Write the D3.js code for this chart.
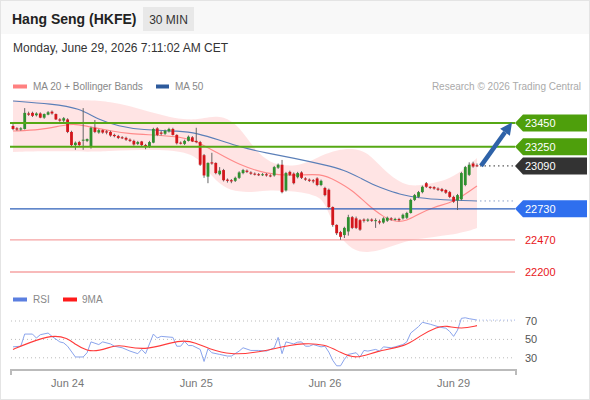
<!DOCTYPE html>
<html><head><meta charset="utf-8">
<script src="https://cdn.jsdelivr.net/npm/d3@7"></script>
<style>body{margin:0;background:#fff;} svg{display:block;font-family:"Liberation Sans",Arial,Helvetica,sans-serif;}</style>
</head><body><svg id="c" width="590" height="400"></svg>
<script>
// ---- data ----
const opens = [23425,23405,23395,23400,23530,23535,23515,23530,23495,23520,23545,23525,23480,23470,23480,23375,23265,23290,23305,23300,
23250,23410,23370,23390,23380,23375,23350,23340,23330,23325,23310,23300,23275,23295,23265,23250,23285,23405,23370,23360,
23380,23400,23350,23285,23275,23300,23330,23300,23290,23180,23000,23120,23115,23020,23055,22975,22970,22965,22990,23030,
23050,23035,23025,23020,23015,23020,23010,23010,23075,23100,22885,23040,23025,22995,23035,22985,22975,22970,22985,22930,
22905,22890,22745,22595,22535,22510,22540,22660,22650,22635,22640,22630,22640,22635,22625,22615,22630,22650,22640,22645,
22650,22655,22695,22805,22830,22870,22945,22915,22912,22900,22895,22888,22870,22830,22800,22810,22930,23015,23110,23095];
const highs = [23440,23415,23415,23575,23545,23545,23540,23540,23530,23550,23555,23530,23490,23500,23490,23385,23295,23300,23575,23320,
23420,23475,23400,23395,23390,23385,23360,23350,23340,23335,23320,23310,23300,23300,23275,23300,23410,23415,23385,23395,
23410,23410,23355,23295,23310,23345,23340,23410,23300,23190,23120,23200,23120,23080,23065,22985,22980,23000,23045,23065,
23060,23045,23035,23030,23030,23030,23020,23090,23110,23140,23040,23050,23035,23040,23045,22995,22985,22980,22995,22975,
22915,22900,22750,22600,22545,22580,22680,22670,22665,22645,22650,22650,22650,22650,22640,22660,22665,22660,22655,22655,
22690,22705,22815,22855,22880,22925,22955,22920,22920,22910,22905,22895,22880,22840,22855,23040,23090,23120,23125,23110];
const lows = [23390,23385,23385,23395,23510,23500,23505,23490,23485,23515,23520,23475,23460,23455,23365,23250,23225,23250,23225,23290,
23235,23365,23360,23360,23355,23335,23330,23315,23315,23300,23290,23260,23265,23250,23230,23240,23280,23340,23345,23350,
23370,23345,23270,23270,23265,23295,23290,23280,23090,22990,22945,23100,23020,23010,22960,22950,22945,22955,22980,23020,
23030,23015,23010,23005,23005,23000,22995,23000,23065,22860,22875,23005,22935,22985,22980,22965,22955,22945,22920,22920,
22835,22735,22580,22510,22470,22485,22505,22560,22560,22545,22615,22620,22620,22570,22600,22605,22620,22630,22630,22625,
22640,22645,22690,22795,22820,22860,22905,22895,22890,22880,22870,22855,22820,22780,22720,22800,22920,23005,23075,23080];
const closes = [23400,23395,23405,23535,23520,23510,23530,23495,23525,23540,23530,23480,23470,23490,23375,23265,23285,23265,23310,23315,
23410,23375,23390,23370,23370,23345,23340,23325,23325,23310,23300,23270,23290,23265,23255,23290,23400,23350,23360,23385,
23400,23350,23280,23280,23300,23335,23295,23290,23100,23010,23115,23110,23030,23050,22970,22965,22960,22990,23035,23055,
23040,23025,23020,23015,23020,23010,23005,23080,23100,22870,23030,23015,22945,23030,22990,22975,22965,22960,22930,22965,
22845,22745,22595,22525,22495,22570,22660,22570,22570,22555,22630,22640,22630,22635,22615,22650,22655,22640,22645,22635,
22680,22695,22805,22845,22870,22915,22915,22905,22900,22890,22880,22865,22830,22790,22845,23030,23080,23100,23085,23090];

// indicators: [candle index, value]
const ma20 = [[0,23383],[7,23391],[13,23433],[16,23442],[20,23416],[25,23383],[30,23358],[37,23349],[43,23333],[47,23299],
[52,23207],[58,23098],[65,23022],[72,23005],[79,23030],[83,22963],[87,22888],[91,22762],[95,22661],[98,22619],[101,22628],
[104,22687],[108,22745],[112,22779],[115,22829],[119,22922]];
const ma50 = [[0,23635],[10,23610],[17,23576],[22,23475],[27,23425],[33,23391],[43,23383],[47,23366],[53,23307],[58,23249],
[65,23198],[72,23156],[80,23098],[85,23056],[89,22990],[93,22922],[96,22888],[100,22846],[104,22821],[110,22804],[119,22796]];
const bbIdx   = [0,10,20,25,30,35,40,45,48,50,54,58,62,66,70,74,78,80,83,87,91,95,100,104,108,112,116,119];
const bbUpper = [23643,23643,23643,23626,23593,23542,23500,23475,23484,23500,23509,23425,23223,23114,23089,23098,23156,23190,23223,23240,23207,23056,22930,22922,22947,22980,23073,23156];
const bbLower = [23207,23215,23207,23215,23223,23223,23223,23198,23140,23039,22905,22871,22871,22888,22880,22871,22838,22787,22520,22380,22360,22390,22450,22480,22494,22510,22536,22569];

const rsi = [[0,41.9],[2,42.6],[3,55.8],[5,55.8],[6,51.5],[7,55.1],[9,56.9],[10,53.3],[12,47.3],[13,46.2],[14,42.6],[16,30.9],[18,30.9],
[19,35.5],[20,47.3],[22,44.4],[23,47.3],[25,45.1],[26,42.6],[28,40.9],[30,37.3],[32,34.5],[33,39.1],[34,34.5],[36,55.8],[37,51.5],
[38,53.3],[41,52.2],[42,42.6],[43,42.6],[44,47.9],[45,43.3],[46,43.3],[48,39.1],[49,26.0],[50,39.8],[51,35.5],[53,33.7],[55,31.9],
[56,31.9],[58,37.3],[59,40.9],[61,38.0],[63,38.0],[65,37.3],[67,40.9],[68,52.2],[69,34.5],[70,47.3],[72,45.1],[73,47.0],[74,47.3],
[75,42.6],[76,42.6],[77,44.4],[79,41.9],[80,42.6],[81,36.2],[82,27.3],[83,21.3],[84,21.3],[85,28.4],[86,33.7],[88,35.5],[89,30.9],
[90,38.0],[91,37.3],[93,39.1],[94,37.3],[95,41.9],[97,40.9],[98,41.9],[100,44.4],[101,47.3],[102,56.9],[104,63.9],[105,68.6],
[107,66.5],[109,63.9],[110,62.9],[111,62.2],[112,58.6],[113,53.3],[114,60.0],[115,72.9],[116,73.5],[117,72.5],[118,71.8],[119,71.0]];
const rsiMa = [[0,39.1],[4,46.2],[10,55.1],[14,51.5],[16,44.4],[19,37.3],[22,37.3],[26,43.3],[28,43.7],[34,37.3],[43,50.5],[47,46.2],
[50,40.1],[56,33.0],[62,35.5],[68,40.9],[71,43.3],[74,45.6],[80,45.1],[84,35.5],[88,28.4],[93,37.3],[101,42.6],[104,53.3],[109,63.9],
[111,65.0],[115,61.1],[119,65.0]];

const resistances = [23450, 23250];
const lastPrice = 23090;
const pivotLevel = 22730;
const supports = [22470, 22200];
const rsiLevels = [70, 50, 30];
const dayIdx = [14, 47, 80, 113];
const dayLabels = ["Jun 24", "Jun 25", "Jun 26", "Jun 29"];

// ---- drawing ----
const svg = d3.select("#c");
const W = 590, H = 400;
const x = d3.scaleLinear().domain([0, closes.length - 1]).range([13, 477]);
const y = d3.scaleLinear().domain([22200, 23450]).range([272, 123]);
const yr = d3.scaleLinear().domain([30, 70]).range([357.8, 321]);
const L = 10, R = 515;

svg.append("rect").attr("x",0).attr("y",0).attr("width",W).attr("height",H).attr("fill","#fff");
svg.append("rect").attr("x",0).attr("y",0).attr("width",W).attr("height",34).attr("fill","#f8f8f8");
svg.append("rect").attr("x",0.5).attr("y",0.5).attr("width",W-1).attr("height",H-1).attr("fill","none").attr("stroke","#e4e4e4");

// header
svg.append("text").attr("x",12).attr("y",24).attr("font-size",14).attr("font-weight","bold").attr("fill","#222").text("Hang Seng (HKFE)");
svg.append("rect").attr("x",143).attr("y",7).attr("width",51).attr("height",24).attr("fill","#e8e8e8");
svg.append("text").attr("x",168.5).attr("y",23.5).attr("text-anchor","middle").attr("font-size",12).attr("fill","#333").text("30 MIN");
svg.append("text").attr("x",13).attr("y",52).attr("font-size",12).attr("fill","#333").text("Monday, June 29, 2026 7:11:02 AM CET");

// legend
svg.append("rect").attr("x",13).attr("y",84.5).attr("width",14).attr("height",4).attr("fill","#ff8080");
svg.append("text").attr("x",33).attr("y",90).attr("font-size",10).attr("fill","#888").text("MA 20 + Bollinger Bands");
svg.append("rect").attr("x",156).attr("y",84.5).attr("width",13).attr("height",4).attr("fill","#2d5a9c");
svg.append("text").attr("x",175).attr("y",90).attr("font-size",10).attr("fill","#888").text("MA 50");
svg.append("text").attr("x",581).attr("y",90).attr("text-anchor","end").attr("font-size",10).attr("fill","#aaa").text("Research \u00a9 2026 Trading Central");

// bollinger band
const bb = bbIdx.map((d,i)=>({i:d,u:bbUpper[i],l:bbLower[i]}));
svg.append("path").datum(bb)
  .attr("d", d3.area().x(d=>x(d.i)).y0(d=>y(d.l)).y1(d=>y(d.u)).curve(d3.curveBasis))
  .attr("fill","rgba(255,90,90,0.16)");

// MA lines
const line = d3.line().x(d=>x(d[0])).y(d=>y(d[1])).curve(d3.curveBasis);
svg.append("path").datum(ma20).attr("d",line).attr("fill","none").attr("stroke","#ff8a8a").attr("stroke-width",1.1);
svg.append("path").datum(ma50).attr("d",line).attr("fill","none").attr("stroke","#5b7fb8").attr("stroke-width",1.1);

// support lines
supports.forEach(v=>{
  svg.append("line").attr("x1",L).attr("x2",R).attr("y1",y(v)).attr("y2",y(v)).attr("stroke","#f6a3a3").attr("stroke-width",1.3);
  svg.append("text").attr("x",525).attr("y",y(v)+4).attr("font-size",11).attr("fill","#e8161b").text(v);
});
// pivot line
svg.append("line").attr("x1",L).attr("x2",R).attr("y1",y(pivotLevel)).attr("y2",y(pivotLevel)).attr("stroke","#2c5fb8").attr("stroke-width",1.3);

// candles
const n = closes.length;
const g = svg.append("g");
for (let i = 0; i < n; i++) {
  const up = closes[i] >= opens[i];
  const cx = x(i);
  g.append("line").attr("x1",cx).attr("x2",cx).attr("y1",y(highs[i])).attr("y2",y(lows[i])).attr("stroke","#666").attr("stroke-width",1);
  const top = y(Math.max(opens[i],closes[i])), bot = y(Math.min(opens[i],closes[i]));
  g.append("rect").attr("x",cx-1.4).attr("y",top).attr("width",2.8).attr("height",Math.max(1,bot-top))
    .attr("fill", up ? "#2f8f2f" : "#d2161c");
}

// resistance lines
resistances.forEach(v=>{
  svg.append("line").attr("x1",L).attr("x2",R).attr("y1",y(v)).attr("y2",y(v)).attr("stroke","#56a814").attr("stroke-width",2);
});

// dotted extensions
const lastX = x(n-1);
svg.append("line").attr("x1",lastX+3).attr("x2",R).attr("y1",y(lastPrice)).attr("y2",y(lastPrice))
  .attr("stroke","#333").attr("stroke-width",1).attr("stroke-dasharray","1.5,3");
const ma50Last = ma50[ma50.length-1][1];
svg.append("line").attr("x1",lastX+3).attr("x2",R).attr("y1",y(ma50Last)).attr("y2",y(ma50Last))
  .attr("stroke","#8aa0c8").attr("stroke-width",1).attr("stroke-dasharray","1.5,3");

// arrow
const ax0 = lastX + 4, ay0 = y(lastPrice), ax1 = 512, ay1 = y(resistances[0]) - 0.5;
const ang = Math.atan2(ay1-ay0, ax1-ax0);
const hl = 12, hw = 6;
const bx = ax1 - hl*Math.cos(ang), by = ay1 - hl*Math.sin(ang);
svg.append("line").attr("x1",ax0).attr("y1",ay0).attr("x2",bx).attr("y2",by).attr("stroke","#2e62a8").attr("stroke-width",4.5);
svg.append("path").attr("d",`M${ax1},${ay1} L${bx + hw*Math.sin(ang)},${by - hw*Math.cos(ang)} L${bx - hw*Math.sin(ang)},${by + hw*Math.cos(ang)} Z`)
  .attr("fill","#2e62a8");

// tags
function tag(v, color) {
  const cy = y(v);
  svg.append("path").attr("d",`M515,${cy} L523,${cy-8.5} L587,${cy-8.5} L587,${cy+8.5} L523,${cy+8.5} Z`).attr("fill",color);
  svg.append("text").attr("x",525).attr("y",cy+4).attr("font-size",11).attr("fill","#fff").text(v);
}
resistances.forEach(v=>tag(v,"#4e9f0c"));
tag(lastPrice,"#333333");
tag(pivotLevel,"#2f6fee");

// ---- RSI panel ----
svg.append("rect").attr("x",13).attr("y",297.5).attr("width",14).attr("height",4).attr("fill","#5b7fe0");
svg.append("text").attr("x",33).attr("y",303).attr("font-size",10).attr("fill","#888").text("RSI");
svg.append("rect").attr("x",63).attr("y",297.5).attr("width",14).attr("height",4).attr("fill","#ff1a1a");
svg.append("text").attr("x",82).attr("y",303).attr("font-size",10).attr("fill","#888").text("9MA");

rsiLevels.forEach(v=>{
  svg.append("line").attr("x1",L+1).attr("x2",R).attr("y1",yr(v)).attr("y2",yr(v)).attr("stroke","#bbb").attr("stroke-width",1).attr("stroke-dasharray","1,3");
  svg.append("text").attr("x",525).attr("y",yr(v)+4).attr("font-size",11).attr("fill","#555").text(v);
});
const rl = d3.line().x(d=>x(d[0])).y(d=>yr(d[1]));
svg.append("path").datum(rsi).attr("d",rl).attr("fill","none").attr("stroke","#8aa4ec").attr("stroke-width",1);
svg.append("path").datum(rsiMa).attr("d",rl.curve(d3.curveBasis)).attr("fill","none").attr("stroke","#ff3b3b").attr("stroke-width",1.1);
const rLast = rsi[rsi.length-1][1];
svg.append("line").attr("x1",lastX+2).attr("x2",R).attr("y1",yr(rLast)).attr("y2",yr(rLast)).attr("stroke","#9fb4ee").attr("stroke-width",1).attr("stroke-dasharray","1,2.5");

// x axis
svg.append("path").attr("d",`M11,375 L11,370 L516,370 L516,375`).attr("fill","none").attr("stroke","#bbb").attr("stroke-width",2);
dayIdx.forEach((d,i)=>{
  svg.append("text").attr("x",x(d)).attr("y",387).attr("text-anchor","middle").attr("font-size",11).attr("fill","#777").text(dayLabels[i]);
});
</script></body></html>
